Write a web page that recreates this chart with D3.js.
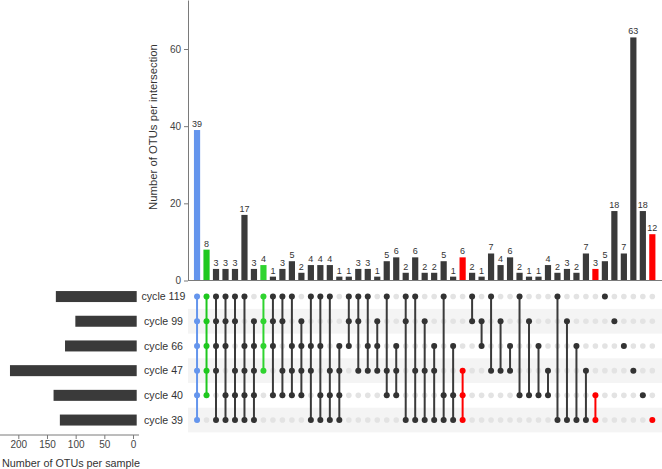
<!DOCTYPE html>
<html>
<head>
<meta charset="utf-8">
<script src="https://cdn.jsdelivr.net/npm/d3@7"></script>
<style>
  body { margin: 0; background: #fff; }
  svg { display: block; font-family: "Liberation Sans", Arial, sans-serif; }
</style>
</head>
<body>
<svg width="662" height="469"></svg>
<script>
// sets, top to bottom
const sets = ["cycle 119", "cycle 99", "cycle 66", "cycle 47", "cycle 40", "cycle 39"];
const setSizes = [141, 107, 125, 221, 145, 134];

// intersections: members are indexes into sets
const combos = ["012345", "01234", "01235", "01245", "01345", "02345", "12345",
    "0123", "0124", "0134", "0234", "1234", "0235", "0245", "0345", "2345",
    "012", "013", "023", "123", "034", "234", "015", "035", "135", "235", "045", "245", "345",
    "01", "12", "03", "13", "23", "04", "14", "24", "34", "05", "15", "25", "35", "45",
    "0", "1", "2", "3", "4", "5"];
const counts = [39, 8, 3, 3, 3, 17, 3,
    4, 1, 3, 5, 2, 4, 4, 4, 1,
    1, 3, 3, 1, 5, 6, 2, 6, 2, 2, 5, 1, 6,
    2, 1, 7, 4, 6, 2, 1, 1, 4, 2, 3, 2, 7, 3,
    5, 18, 7, 63, 18, 12];

const yTicks = [0, 20, 40, 60];
const sizeTicks = [0, 50, 100, 150, 200];

// highlighted columns
const colColor = {0: "#6495ed", 1: "#1ec81e", 7: "#2fd42f", 28: "#ff0000", 42: "#ff0000", 48: "#ff0000"};
const dark = "#3a3a3a";

const svg = d3.select("svg");
const W = 662;

const data = combos.map((c, i) => ({
    i: i,
    members: c.split("").map(Number),
    count: counts[i],
    color: colColor[i] || dark
}));

const scX = d3.scaleBand()
    .domain(data.map(d => d.i))
    .range([192.3, 192.3 + 49 * 9.485]);
const scRow = d3.scaleBand()
    .domain(d3.range(sets.length))
    .range([284.2, 432.4]);
const scY = d3.scaleLinear()
    .domain([0, 72.7])
    .range([280.5, 0]);
const scSize = d3.scaleLinear()
    .domain([0, 238.4])
    .range([136.7, 0]);

const cx = d => scX(d) + scX.bandwidth() / 2;
const cy = r => scRow(r) + scRow.bandwidth() / 2;
const barW = 6.2;

// stripes
svg.selectAll(".stripe")
    .data([1, 3, 5])
    .enter()
    .append("rect")
    .attr("x", 188)
    .attr("y", d => scRow(d))
    .attr("width", W - 188)
    .attr("height", scRow.bandwidth())
    .style("fill", "#f4f4f4");

// intersection bars
svg.selectAll(".bar")
    .data(data)
    .enter()
    .append("rect")
    .attr("x", d => cx(d.i) - barW / 2)
    .attr("y", d => scY(d.count))
    .attr("width", barW)
    .attr("height", d => scY(0) - scY(d.count))
    .style("fill", d => d.color);

svg.selectAll(".barlabel")
    .data(data)
    .enter()
    .append("text")
    .attr("x", d => cx(d.i))
    .attr("y", d => scY(d.count) - 3)
    .attr("text-anchor", "middle")
    .style("font-size", "9px")
    .style("fill", "#333")
    .text(d => d.count);

// y axis
const axisY = svg.append("g")
    .attr("transform", "translate(188, 0)")
    .call(d3.axisLeft(scY).tickValues(yTicks).tickSize(4).tickSizeOuter(0));
axisY.select(".domain").attr("stroke", "#7a7a7a");
axisY.selectAll(".tick line").attr("stroke", "#7a7a7a");
axisY.selectAll("text").style("font-size", "10px").style("fill", "#444").attr("x", -7);

svg.append("line")
    .attr("x1", 188).attr("x2", W)
    .attr("y1", scY(0)).attr("y2", scY(0))
    .attr("stroke", "#7a7a7a");

svg.append("text")
    .attr("transform", "translate(153, 127) rotate(-90)")
    .attr("text-anchor", "middle")
    .attr("dy", "0.35em")
    .style("font-size", "11.3px")
    .style("fill", "#333")
    .text("Number of OTUs per intersection");

// matrix: empty dots
const grid = [];
data.forEach(d => sets.forEach((s, r) => grid.push({i: d.i, r: r})));
svg.selectAll(".empty")
    .data(grid)
    .enter()
    .append("circle")
    .attr("cx", d => cx(d.i))
    .attr("cy", d => cy(d.r))
    .attr("r", 2.8)
    .style("fill", "#e3e3e3");

// connecting lines
svg.selectAll(".link")
    .data(data.filter(d => d.members.length > 1))
    .enter()
    .append("line")
    .attr("x1", d => cx(d.i))
    .attr("x2", d => cx(d.i))
    .attr("y1", d => cy(d3.min(d.members)))
    .attr("y2", d => cy(d3.max(d.members)))
    .attr("stroke", d => d.color)
    .attr("stroke-width", 2);

// filled dots
const filled = [];
data.forEach(d => d.members.forEach(r => filled.push({i: d.i, r: r, color: d.color})));
svg.selectAll(".dot")
    .data(filled)
    .enter()
    .append("circle")
    .attr("cx", d => cx(d.i))
    .attr("cy", d => cy(d.r))
    .attr("r", 3)
    .style("fill", d => d.color === dark ? "#333" : d.color);

// set names
svg.selectAll(".setname")
    .data(sets)
    .enter()
    .append("text")
    .attr("x", 163.5)
    .attr("y", (d, r) => cy(r))
    .attr("dy", "0.35em")
    .attr("text-anchor", "middle")
    .style("font-size", "10.6px")
    .style("fill", "#333")
    .text(d => d);

// set size bars
svg.selectAll(".setbar")
    .data(setSizes)
    .enter()
    .append("rect")
    .attr("x", d => scSize(d))
    .attr("y", (d, r) => cy(r) - 5.5)
    .attr("width", d => scSize(0) - scSize(d))
    .attr("height", 11)
    .style("fill", dark);

const axisS = svg.append("g")
    .attr("transform", "translate(-3.7, 435)")
    .call(d3.axisBottom(scSize).tickValues(sizeTicks).tickSize(4).tickSizeOuter(0));
axisS.select(".domain").remove();
axisS.selectAll(".tick line").attr("stroke", "#7a7a7a");
axisS.selectAll("text").style("font-size", "10px").style("fill", "#444").attr("y", 6);

svg.append("line")
    .attr("x1", 0).attr("x2", 139)
    .attr("y1", 435).attr("y2", 435)
    .attr("stroke", "#7a7a7a");

svg.append("text")
    .attr("x", 71)
    .attr("y", 467)
    .attr("text-anchor", "middle")
    .style("font-size", "10.8px")
    .style("fill", "#333")
    .text("Number of OTUs per sample");
</script>
</body>
</html>
